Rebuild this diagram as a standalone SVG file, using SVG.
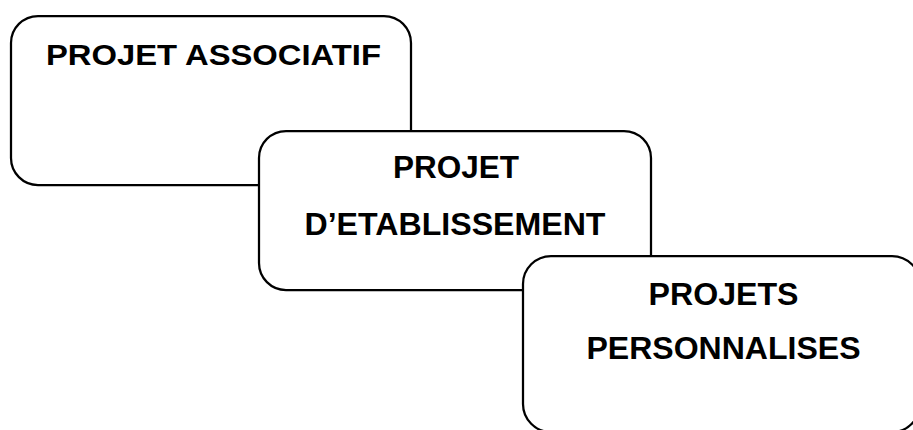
<svg xmlns="http://www.w3.org/2000/svg" width="913" height="430" viewBox="0 0 913 430">
<style>
.box{fill:#fff;stroke:#000;stroke-width:2.25}
.t{font-family:"Liberation Sans",Arial,sans-serif;font-weight:bold;fill:#000}
</style>
<rect width="913" height="430" fill="#fff"/>
<g id="connectors"></g>
<g id="projet-associatif">
<rect class="box" x="11" y="16" width="400" height="169" rx="27" ry="27"/>
<text class="t" x="46" y="65" font-size="29" textLength="335" lengthAdjust="spacingAndGlyphs">PROJET ASSOCIATIF</text>
</g>
<g id="projet-etablissement">
<rect class="box" x="259" y="131" width="392" height="159" rx="27" ry="27"/>
<text class="t" x="393" y="178" font-size="31" textLength="126" lengthAdjust="spacingAndGlyphs">PROJET</text>
<text class="t" x="304.5" y="235" font-size="31" textLength="301" lengthAdjust="spacingAndGlyphs">D’ETABLISSEMENT</text>
</g>
<g id="projets-personnalises">
<rect class="box" x="523" y="256" width="397" height="176" rx="28" ry="28"/>
<text class="t" x="648.5" y="305" font-size="31" textLength="150" lengthAdjust="spacingAndGlyphs">PROJETS</text>
<text class="t" x="586.5" y="359" font-size="31" textLength="274" lengthAdjust="spacingAndGlyphs">PERSONNALISES</text>
</g>
</svg>
